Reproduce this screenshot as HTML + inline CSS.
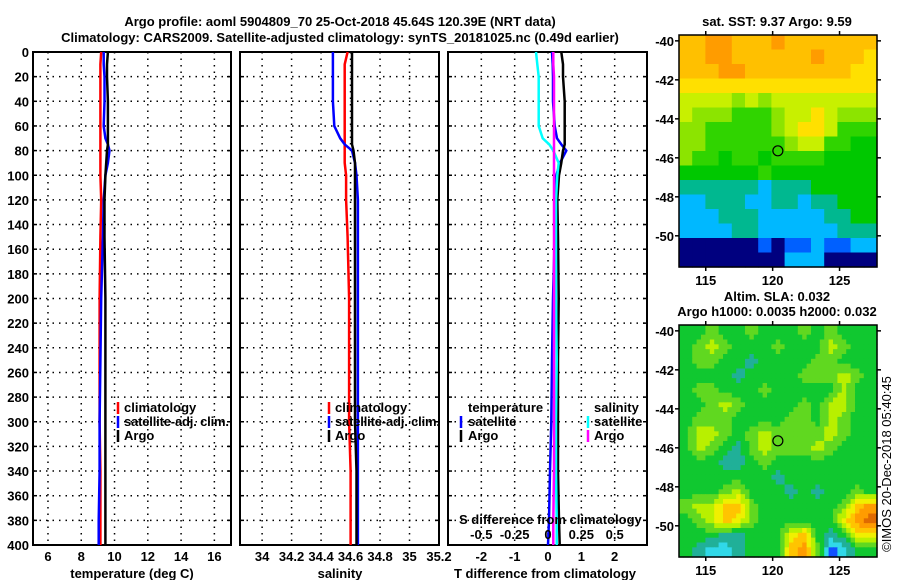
<!DOCTYPE html>
<html><head><meta charset="utf-8"><style>
html,body{margin:0;padding:0;background:#fff;}
svg text{font-family:"Liberation Sans",sans-serif;font-weight:bold;font-size:13px;fill:#000;}
</style></head><body>
<svg id="c" width="900" height="580" viewBox="0 0 900 580" xmlns="http://www.w3.org/2000/svg">
<text x="340" y="26" text-anchor="middle" font-size="14">Argo profile: aoml 5904809_70 25-Oct-2018 45.64S 120.39E (NRT data)</text>
<text x="340" y="42" text-anchor="middle" font-size="14">Climatology: CARS2009. Satellite-adjusted climatology: synTS_20181025.nc (0.49d earlier)</text>
<text x="777" y="26" text-anchor="middle" font-size="12">sat. SST: 9.37 Argo: 9.59</text>
<text x="777" y="301" text-anchor="middle" font-size="12">Altim. SLA: 0.032</text>
<text x="777" y="316" text-anchor="middle" font-size="12">Argo h1000: 0.0035 h2000: 0.032</text>
<text transform="translate(891,464) rotate(-90)" text-anchor="middle" font-size="12" style="font-weight:normal">©IMOS 20-Dec-2018 05:40:45</text>
<g id="g"></g>
</svg>
<script>
// ---- Profile data (depth in m) ----
const tDepth = [0,10,20,40,60,70,75,80,90,100,120,150,200,250,300,340,380,400];
const tClim  = [9.2,9.15,9.15,9.15,9.15,9.15,9.15,9.15,9.15,9.15,9.2,9.15,9.1,9.1,9.1,9.15,9.15,9.15];
const tSat   = [9.35,9.35,9.4,9.4,9.35,9.45,9.6,9.7,9.6,9.45,9.35,9.3,9.2,9.15,9.1,9.1,9.05,9.05];
const tArgo  = [9.6,9.55,9.55,9.6,9.6,9.6,9.6,9.55,9.5,9.45,9.4,9.4,9.45,9.45,9.45,9.45,9.45,9.45];
const sClim  = [34.58,34.56,34.56,34.56,34.56,34.56,34.56,34.56,34.56,34.57,34.57,34.58,34.59,34.59,34.59,34.6,34.6,34.6];
const sSat   = [34.48,34.48,34.48,34.48,34.49,34.53,34.56,34.61,34.63,34.64,34.65,34.65,34.65,34.65,34.65,34.65,34.65,34.65];
const sArgo  = [34.61,34.61,34.61,34.61,34.61,34.61,34.61,34.62,34.63,34.63,34.63,34.63,34.63,34.63,34.63,34.64,34.64,34.64];
const dTsat  = [0.12,0.14,0.15,0.15,0.2,0.27,0.4,0.55,0.36,0.25,0.2,0.2,0.15,0.12,0.1,0.06,0.03,0.0];
const dTargo = [0.4,0.45,0.45,0.5,0.5,0.5,0.5,0.45,0.4,0.33,0.28,0.3,0.32,0.3,0.3,0.3,0.33,0.35];
const dSsat  = [-0.09,-0.08,-0.07,-0.07,-0.07,-0.04,0.01,0.04,0.08,0.07,0.06,0.06,0.06,0.065,0.06,0.06,0.065,0.065];
const dSargo = [0.04,0.04,0.045,0.045,0.045,0.045,0.045,0.045,0.045,0.045,0.045,0.045,0.045,0.045,0.045,0.045,0.04,0.04];
const depthTicks = [0,20,40,60,80,100,120,140,160,180,200,220,240,260,280,300,320,340,360,380,400];
const tTicks = [6,8,10,12,14,16];
const sTicks = [34,34.2,34.4,34.6,34.8,35,35.2];
const sTickLabels = ["34","34.2","34.4","34.6","34.8","35","35.2"];
const dTicks = [-2,-1,0,1,2];
const dTickLabels = ["-2","-1","0","1","2"];
const dsTicks = [-0.5,-0.25,0,0.25,0.5];
const dsTickLabels = ["-0.5","-0.25","0","0.25","0.5"];
// ---- Map data: level codes per row (top = north) ----
const sstLats = [-39.7,-51.6], sstLons = [113.0,127.8];
const sstRows = [
"99aa999a9999999","99aa999999a9998","999aa9999999988","888888888888888",
"777767677777777","766655567787666","665555567887555","665555556775544",
"655455455554444","444444544444444","333333233344444","223332233233444",
"222333222223344","222233222222333","000000101121122","000000002220000"];
const sstPal = ["#00007f","#0060ff","#00b8ff","#00b890","#00c800","#30d400","#8ce400","#c8f000","#ffe000","#ffc000","#ff9c00"];
const slaRows = [
"334334333434333","345433343335433","344332333344333","333323333444543",
"344333433333533","334543333435533","344433334435433","355434544445433",
"354324544454333","333223433333333","333333323333333","333453332323343",
"455774333333478","345764333333689","333223336732366","321123337840133"];
const slaPal = ["#1050ff","#30d8e8","#20b098","#10c830","#60d820","#b8f000","#f0f000","#ffc400","#ff9c00","#e06a00"];
const argoLon = 120.39, argoLat = -45.64;
const lonTicks = [115,120,125];
const latTicks = [-40,-42,-44,-46,-48,-50];

const NS="http://www.w3.org/2000/svg";
const G=document.getElementById('g');
function mk(tag,at,parent){const e=document.createElementNS(NS,tag);for(const k in at)e.setAttribute(k,at[k]);(parent||G).appendChild(e);return e;}
const Y0=52,Y1=545;
function yD(d){return Y0+d*(Y1-Y0)/400;}
function lin(d0,d1,r0,r1){return v=>r0+(v-d0)*(r1-r0)/(d1-d0);}

function frame(x0,x1,xs,ticks,labels,name,leftLabels){
  for(const t of ticks){const x=xs(t);
    const l=mk('line',{x1:x,x2:x,y1:Y0,y2:Y1,stroke:'#000','stroke-width':1.5,'stroke-dasharray':'1.5,5'});
    }
  for(const d of depthTicks){const y=yD(d);
    const l=mk('line',{x1:x0,x2:x1,y1:y,y2:y,stroke:'#000','stroke-width':1.5,'stroke-dasharray':'1.5,5'});
    
    mk('line',{x1:x0,x2:x0+4,y1:y,y2:y,stroke:'#000','stroke-width':1.5});
    mk('line',{x1:x1-4,x2:x1,y1:y,y2:y,stroke:'#000','stroke-width':1.5});
    if(leftLabels){const t=mk('text',{x:x0-4,y:y+5,'text-anchor':'end'});t.textContent=d;
      }}
  const r=mk('rect',{x:x0,y:Y0,width:x1-x0,height:Y1-Y0,fill:'none',stroke:'#000','stroke-width':2});
  
  if(labels) ticks.forEach((t,i)=>{const e=mk('text',{x:xs(t),y:561,'text-anchor':'middle'});e.textContent=labels[i];
    });
}
function profile(xs,vals,color,name){
  let d='';for(let i=0;i<tDepth.length;i++){const x=xs(vals[i]),y=yD(tDepth[i]);d+=(i?'L':'M')+x.toFixed(1)+','+y.toFixed(1);}
  const p=mk('path',{d:d,fill:'none',stroke:color,'stroke-width':2.5});
  
}
function legendItem(mx,tx,y,color,label,name){
  mk('line',{x1:mx,x2:mx,y1:y-10,y2:y+2,stroke:color,'stroke-width':2.5});
  const t=mk('text',{x:tx,y:y,'font-size':12,textLength:label.length>12?105:null});
  if(label.length<=12)t.removeAttribute('textLength');
  t.textContent=label;
  
}
// Panel 1
const xT=lin(5.1,17,33,231);
frame(33,231,xT,tTicks,tTicks.map(String),'temperature-panel',true);
profile(xT,tClim,'#ff0000','temp-climatology-line');
profile(xT,tSat,'#0000ff','temp-satellite-line');
profile(xT,tArgo,'#000','temp-argo-line');
legendItem(118,124,412,'#ff0000','climatology','temp-legend-climatology');
legendItem(118,124,426,'#0000ff','satellite-adj. clim.','temp-legend-satellite');
legendItem(118,124,440,'#000','Argo','temp-legend-argo');
{const t=mk('text',{x:132,y:578,'text-anchor':'middle'});t.textContent='temperature (deg C)';}
// Panel 2
const xS=lin(33.85,35.2,240,439);
frame(240,439,xS,sTicks,sTickLabels,'salinity-panel',false);
profile(xS,sClim,'#ff0000','sal-climatology-line');
profile(xS,sSat,'#0000ff','sal-satellite-line');
profile(xS,sArgo,'#000','sal-argo-line');
legendItem(329,335,412,'#ff0000','climatology','sal-legend-climatology');
legendItem(329,335,426,'#0000ff','satellite-adj. clim.','sal-legend-satellite');
legendItem(329,335,440,'#000','Argo','sal-legend-argo');
{const t=mk('text',{x:340,y:578,'text-anchor':'middle'});t.textContent='salinity';}
// Panel 3
const xD=lin(-3,3,448,648);
const xDS=v=>xD(v*4);
frame(448,647,xD,dTicks,dTickLabels,'difference-panel',false);
profile(xD,dTsat,'#0000ff','dt-satellite-line');
profile(xD,dTargo,'#000','dt-argo-line');
profile(xDS,dSsat,'#00ffff','ds-satellite-line');
profile(xDS,dSargo,'#ff00ff','ds-argo-line');
{const t=mk('text',{x:468,y:412,'font-size':12});t.textContent='temperature';}
legendItem(461,468,426,'#0000ff','satellite','dt-legend-satellite');
legendItem(461,468,440,'#000','Argo','dt-legend-argo');
{const t=mk('text',{x:594,y:412,'font-size':12});t.textContent='salinity';}
legendItem(588,594,426,'#00ffff','satellite','ds-legend-satellite');
legendItem(588,594,440,'#ff00ff','Argo','ds-legend-argo');
{const t=mk('text',{x:459,y:524,'font-size':12});t.textContent='S difference from climatology';}
dsTicks.forEach((v,i)=>{const t=mk('text',{x:xDS(v),y:539,'text-anchor':'middle','font-size':12});t.textContent=dsTickLabels[i];
  });
{const t=mk('text',{x:545,y:578,'text-anchor':'middle'});t.textContent='T difference from climatology';}
// Maps
function map(x0,x1,y0,y1,rows,pal,name,up){
  const xs=lin(sstLons[0],sstLons[1],x0,x1), ys=lin(sstLats[0],sstLats[1],y0,y1);
  const nr=rows.length,nc=rows[0].length;
  const val=(r,c)=>parseInt(rows[Math.max(0,Math.min(nr-1,r))][Math.max(0,Math.min(nc-1,c))],16);
  const NR=nr*up,NC=nc*up,cw=(x1-x0)/NC,ch=(y1-y0)/NR;
  for(let r=0;r<NR;r++)for(let c=0;c<NC;c++){
    let v;
    if(up===1){v=val(r,c);}else{
      const fr=(r+0.5)/up-0.5,fc=(c+0.5)/up-0.5;
      const r0=Math.floor(fr),c0=Math.floor(fc),ar=fr-r0,ac=fc-c0;
      v=val(r0,c0)*(1-ar)*(1-ac)+val(r0,c0+1)*(1-ar)*ac+val(r0+1,c0)*ar*(1-ac)+val(r0+1,c0+1)*ar*ac;
      v=Math.round(v);}
    const e=mk('rect',{x:(x0+c*cw).toFixed(2),y:(y0+r*ch).toFixed(2),width:(cw+0.6).toFixed(2),height:(ch+0.6).toFixed(2),fill:pal[v]});
    }
  for(const lo of lonTicks){const x=xs(lo);
    mk('line',{x1:x,x2:x,y1:y0-4,y2:y0,stroke:'#000','stroke-width':1.5});
    mk('line',{x1:x,x2:x,y1:y1,y2:y1+4,stroke:'#000','stroke-width':1.5});
    const t=mk('text',{x:x,y:y1+18,'text-anchor':'middle'});t.textContent=lo;
    }
  for(const la of latTicks){const y=ys(la);
    mk('line',{x1:x0-4,x2:x0,y1:y,y2:y,stroke:'#000','stroke-width':1.5});
    mk('line',{x1:x1,x2:x1+4,y1:y,y2:y,stroke:'#000','stroke-width':1.5});
    const t=mk('text',{x:x0-5,y:y+5,'text-anchor':'end'});t.textContent=la;
    }
  const f=mk('rect',{x:x0,y:y0,width:x1-x0,height:y1-y0,fill:'none',stroke:'#000','stroke-width':1.5});
  
  const c=mk('circle',{cx:xs(argoLon),cy:ys(argoLat),r:5,fill:'none',stroke:'#000','stroke-width':1.2});
  
}
map(679,877,35,267,sstRows,sstPal,'sst-map',1);
map(679,877,325,557,slaRows,slaPal,'sla-map',3);
</script>
</body></html>
